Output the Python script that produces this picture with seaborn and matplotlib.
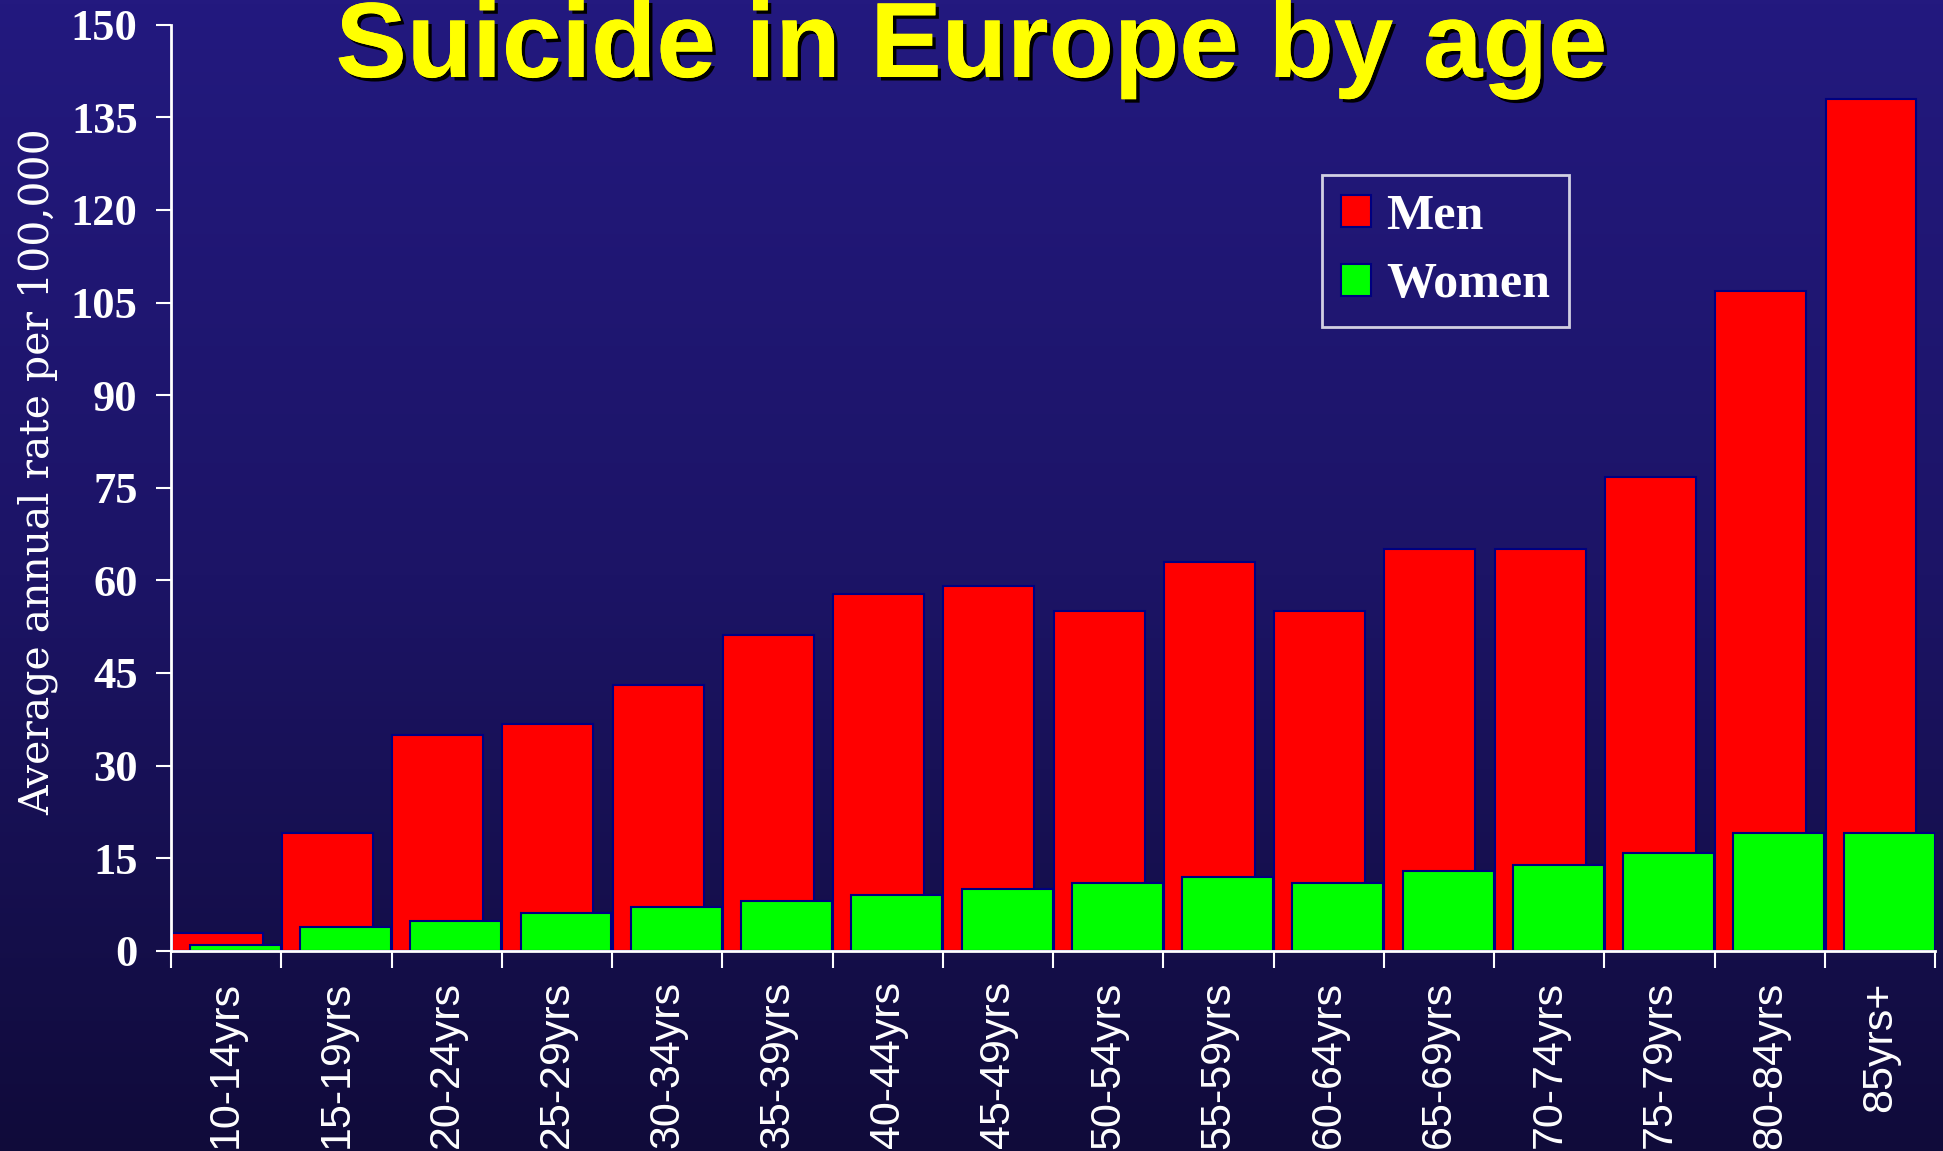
"""Suicide in Europe by age: overlapping men/women bars on a navy gradient."""

import matplotlib

matplotlib.use("Agg")
import matplotlib.patheffects as pe
import matplotlib.pyplot as plt
import numpy as np
import seaborn as sns
from matplotlib.colors import LinearSegmentedColormap

# data
age_groups = [
    "10-14yrs", "15-19yrs", "20-24yrs", "25-29yrs", "30-34yrs", "35-39yrs",
    "40-44yrs", "45-49yrs", "50-54yrs", "55-59yrs", "60-64yrs", "65-69yrs",
    "70-74yrs", "75-79yrs", "80-84yrs", "85yrs+",
]
men_rate = [2.8, 19.0, 35.0, 36.8, 43.0, 51.2, 57.8, 59.1,
            55.0, 63.0, 55.0, 65.0, 65.0, 76.8, 106.8, 137.9]
women_rate = [0.9, 3.8, 4.8, 6.1, 7.1, 8.0, 9.0, 10.0,
              11.0, 11.9, 11.0, 12.9, 13.9, 15.8, 19.0, 19.0]
y_ticks = list(range(0, 151, 15))
series_names = ["Men", "Women"]

TITLE = "Suicide in Europe by age"
YLABEL = "Average annual rate per 100,000"
EDGE = "#000080"

sns.set_theme(style="ticks")
plt.rcParams["font.family"] = ["Liberation Serif", "DejaVu Serif"]

fig = plt.figure(figsize=(19.43, 11.51), dpi=100)

# background gradient, lighter navy at the top
bg = fig.add_axes([0, 0, 1, 1], zorder=-10)
grad = np.linspace(0, 1, 256).reshape(-1, 1)
cmap = LinearSegmentedColormap.from_list("bg", ["#23197f", "#1c1466", "#100b3a"])
bg.imshow(grad, aspect="auto", cmap=cmap, extent=[0, 1, 0, 1])
bg.set_axis_off()

ax = fig.add_axes([0.088, 0.174, 0.908, 0.8045])
ax.set_facecolor("none")

pos = np.arange(len(age_groups))
offset = 0.0825
sns.barplot(x=pos - offset, y=men_rate, native_scale=True, width=0.825,
            color="#ff0000", saturation=1, edgecolor=EDGE, linewidth=1.5,
            errorbar=None, ax=ax)
sns.barplot(x=pos + offset, y=women_rate, native_scale=True, width=0.825,
            color="#00ff00", saturation=1, edgecolor=EDGE, linewidth=1.5,
            errorbar=None, ax=ax)

ax.set_xlim(-0.5, len(age_groups) - 0.5)
ax.set_ylim(0, 150)

# category labels centred, tick marks on the boundaries
ax.set_xticks(pos)
ax.set_xticklabels(age_groups, rotation=90, family="Liberation Sans",
                   fontsize=31, color="white")
ax.set_xticks(np.arange(-0.5, len(age_groups)), minor=True)
ax.tick_params(axis="x", which="major", length=0, pad=22)
ax.tick_params(axis="x", which="minor", length=12, width=1.5, color="white")

ax.set_yticks(y_ticks)
ax.set_yticklabels([str(v) for v in y_ticks], fontsize=32, fontweight="bold",
                   color="white")
ax.tick_params(axis="y", length=11, width=1.5, color="white", pad=13)

ax.set_xlabel("")
ax.set_ylabel(YLABEL, family="DejaVu Serif", fontsize=29.5, color="white")
ax.yaxis.set_label_coords(-0.064, 0.517)

sns.despine(ax=ax)
for side in ("left", "bottom"):
    ax.spines[side].set_color("white")
    ax.spines[side].set_linewidth(2)

leg = ax.legend(ax.containers[:2], series_names, loc="upper left",
                bbox_to_anchor=(0.6525, 0.838), borderaxespad=0,
                frameon=True, fancybox=False, facecolor="none",
                edgecolor="white", prop={"family": "Liberation Serif",
                                         "weight": "bold", "size": 36},
                handlelength=0.6, handleheight=0.6, handletextpad=0.3,
                labelspacing=0.45, borderpad=0.38)
leg.get_frame().set_linewidth(2)
for txt in leg.get_texts():
    txt.set_color("white")

fig.text(0.5, 1 - 77 / 1151, TITLE, ha="center", va="baseline",
         family="Liberation Sans", fontsize=77, fontweight="bold",
         color="#ffff00",
         path_effects=[pe.withSimplePatchShadow(offset=(2.5, -2.5),
                                                shadow_rgbFace="black",
                                                alpha=1.0),
                       pe.Normal()])

fig.savefig("out.png", dpi=100)
